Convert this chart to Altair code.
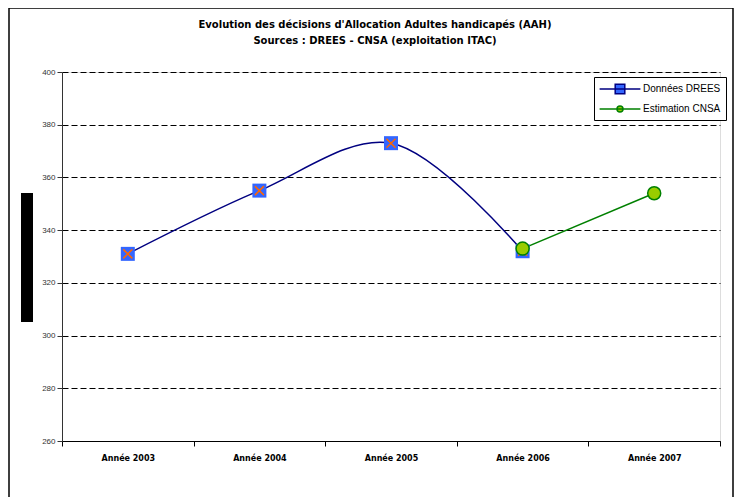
import altair as alt
import pandas as pd

years = ["Année 2003", "Année 2004", "Année 2005", "Année 2006", "Année 2007"]
drees = [331, 355, 373, 332, None]
cnsa = [None, None, None, 333, 354]
series_names = ["Données DREES", "Estimation CNSA"]

rows = []
for y, v in zip(years, drees):
    if v is not None:
        rows.append({"annee": y, "valeur": v, "serie": series_names[0]})
for y, v in zip(years, cnsa):
    if v is not None:
        rows.append({"annee": y, "valeur": v, "serie": series_names[1]})
df = pd.DataFrame(rows)

FONT = "Liberation Sans"
BOLD_FONT = "DejaVu Sans"
W, H = 658, 369

x_enc = alt.X("annee:N", sort=years,
              scale=alt.Scale(domain=years, paddingInner=0, paddingOuter=0),
              axis=alt.Axis(title=None, tickBand="extent", labelFontWeight="bold",
                            labelFontSize=8, labelColor="#000", labelFont=BOLD_FONT,
                            labelPadding=8, tickSize=5, tickColor="#000",
                            domainColor="#000", grid=False, labelAngle=0))
y_enc = alt.Y("valeur:Q",
              scale=alt.Scale(domain=[260, 400], nice=False, zero=False),
              axis=alt.Axis(title=None, values=list(range(260, 401, 20)),
                            labelFontSize=8, labelColor="#333", labelFont=FONT,
                            tickSize=5, tickColor="#333", domainColor="#333",
                            labelPadding=2, grid=True, gridColor="#000",
                            gridDash=[6, 3], gridWidth=1))

base = alt.Chart(df)

legend = alt.Legend(
    title=None, orient="none", legendX=532, legendY=5,
    strokeColor="#000", fillColor="#fff", padding=5,
    labelFont=FONT, labelFontSize=10, labelColor="#000", labelAlign="left",
    labelOffset=16, rowPadding=5, symbolOpacity=1, symbolStrokeWidth=1.5,
    symbolSize=144, symbolOffset=14,
)

path_square = "M-3.4,0H3.4M-0.8,-0.8H0.8V0.8H-0.8Z"
path_circle = "M-3.4,0H3.4M0.5,0A0.5,0.5 0 1 1 -0.5,0A0.5,0.5 0 1 1 0.5,0Z"

legend_layer = base.mark_point(filled=True, opacity=0, size=144, strokeWidth=1.5).encode(
    x=x_enc, y=y_enc,
    shape=alt.Shape("serie:N", scale=alt.Scale(domain=series_names, range=[path_square, path_circle]), legend=legend),
    fill=alt.Fill("serie:N", scale=alt.Scale(domain=series_names, range=["#3366FF", "#99CC00"]), legend=legend),
    stroke=alt.Stroke("serie:N", scale=alt.Scale(domain=series_names, range=["#000080", "#008000"]), legend=legend),
)

lines_drees = base.transform_filter(alt.datum.serie == series_names[0]).mark_line(
    interpolate="catmull-rom", strokeWidth=1.5, stroke="#000080"
).encode(x=x_enc, y=y_enc)

lines_cnsa = base.transform_filter(alt.datum.serie == series_names[1]).mark_line(
    strokeWidth=1.5, stroke="#008000"
).encode(x=x_enc, y=y_enc)

squares = base.transform_filter(alt.datum.serie == series_names[0]).mark_point(
    shape="square", filled=True, fill="#3366FF", opacity=1, size=196, strokeWidth=0
).encode(x=x_enc, y=y_enc)

crosses = base.transform_filter(alt.datum.serie == series_names[0]).mark_point(
    shape="M-1,-1L1,1M-1,1L1,-1", filled=False, stroke="#FF6600", strokeWidth=1.5,
    opacity=1, size=81
).encode(x=x_enc, y=y_enc)

circles = base.transform_filter(alt.datum.serie == series_names[1]).mark_point(
    shape="circle", filled=True, fill="#99CC00", stroke="#008000", strokeWidth=1.5,
    opacity=1, size=170
).encode(x=x_enc, y=y_enc)

deco = alt.Data(values=[{"k": 1}])
frame = alt.Chart(deco).mark_rect(filled=False, stroke="#000", strokeWidth=1.5).encode(
    x=alt.value(-53), x2=alt.value(671), y=alt.value(-64), y2=alt.value(440))
blackbox = alt.Chart(deco).mark_rect(fill="#000").encode(
    x=alt.value(-41), x2=alt.value(-29), y=alt.value(121), y2=alt.value(250))

chart = alt.layer(frame, blackbox, lines_drees, lines_cnsa, squares, crosses, circles, legend_layer).properties(
    width=W, height=H,
    title=alt.TitleParams(
        text=["Evolution des décisions d'Allocation Adultes handicapés (AAH)",
              "Sources : DREES - CNSA (exploitation ITAC)"],
        font=BOLD_FONT, fontSize=10, fontWeight="bold", color="#000",
        anchor="middle", lineHeight=16, offset=-39, dx=-16),
    autosize=alt.AutoSizeParams(type="none"),
    padding={"left": 54, "top": 64, "right": 14, "bottom": 56},
).configure_view(stroke="#888", strokeWidth=1).configure(background="#fff")

chart.save("out.html", embed_options={"renderer": "svg", "actions": False})
